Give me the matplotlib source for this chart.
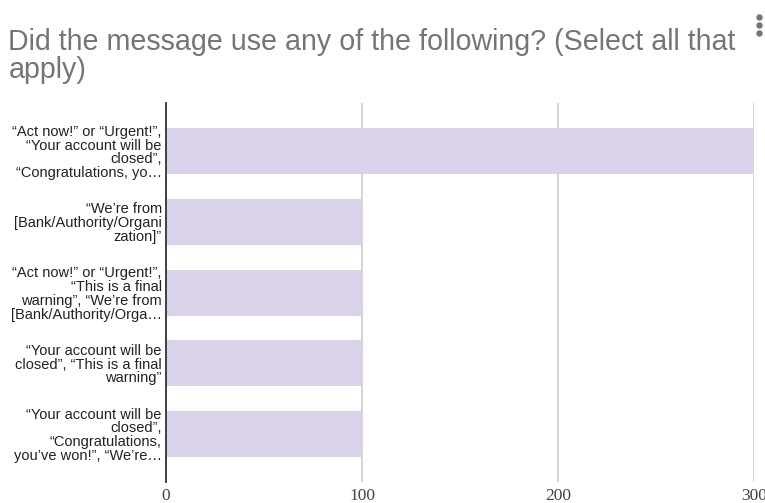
import matplotlib.pyplot as plt
from matplotlib.lines import Line2D

# answer categories (wrapped and truncated like the form summary)
categories = [
    "\u201cAct now!\u201d or \u201cUrgent!\u201d,\n\u201cYour account will be\nclosed\u201d,\n\u201cCongratulations, yo\u2026",
    "\u201cWe\u2019re from\n[Bank/Authority/Organi\nzation]\u201d",
    "\u201cAct now!\u201d or \u201cUrgent!\u201d,\n\u201cThis is a final\nwarning\u201d, \u201cWe\u2019re from\n[Bank/Authority/Orga\u2026",
    "\u201cYour account will be\nclosed\u201d, \u201cThis is a final\nwarning\u201d",
    "\u201cYour account will be\nclosed\u201d,\n\u201cCongratulations,\nyou\u2019ve won!\u201d, \u201cWe\u2019re\u2026",
]
counts = [300, 100, 100, 100, 100]
xticks = [0, 100, 200, 300]

title = "Did the message use any of the following? (Select all that\napply)"

fig = plt.figure(figsize=(7.65, 5.03), dpi=100)
ax = fig.add_axes([0.217, 0.0417, 0.7686, 0.7535])

pos = list(range(len(categories)))
ax.barh(pos, counts, height=0.65, color="#d9d2e9", zorder=2)
ax.set_ylim(len(categories) - 0.32, -0.68)
ax.set_xlim(0, 300)

ax.set_xticks(xticks)
ax.grid(axis="x", color="#cccccc", linewidth=1.2, zorder=0)
ax.set_yticks(pos)
ax.set_yticklabels(categories, fontsize=10.5, family="Liberation Sans",
                   color="#222222", linespacing=0.98, ha="right")
ax.tick_params(axis="both", length=0)
ax.tick_params(axis="y", pad=3)
ax.tick_params(axis="x", pad=4)
for lbl in ax.get_xticklabels():
    lbl.set_family("Liberation Serif")
    lbl.set_fontsize(12.5)
    lbl.set_color("#444444")
    lbl.set_clip_on(False)

for side in ["top", "right", "bottom"]:
    ax.spines[side].set_visible(False)
ax.spines["left"].set_color("#333333")
ax.spines["left"].set_linewidth(1.3)
ax.spines["left"].set_zorder(3)

fig.text(0.011, 0.945, title, fontsize=20.6, family="Liberation Sans",
         color="#757575", va="top", ha="left", linespacing=1.0)

# kebab menu dots in the top right corner
fig.add_artist(Line2D([0.992] * 3, [0.966, 0.950, 0.934],
                      transform=fig.transFigure, linestyle="none",
                      marker="o", markersize=3.6, color="#757575"))

fig.savefig("out.png", dpi=100)
